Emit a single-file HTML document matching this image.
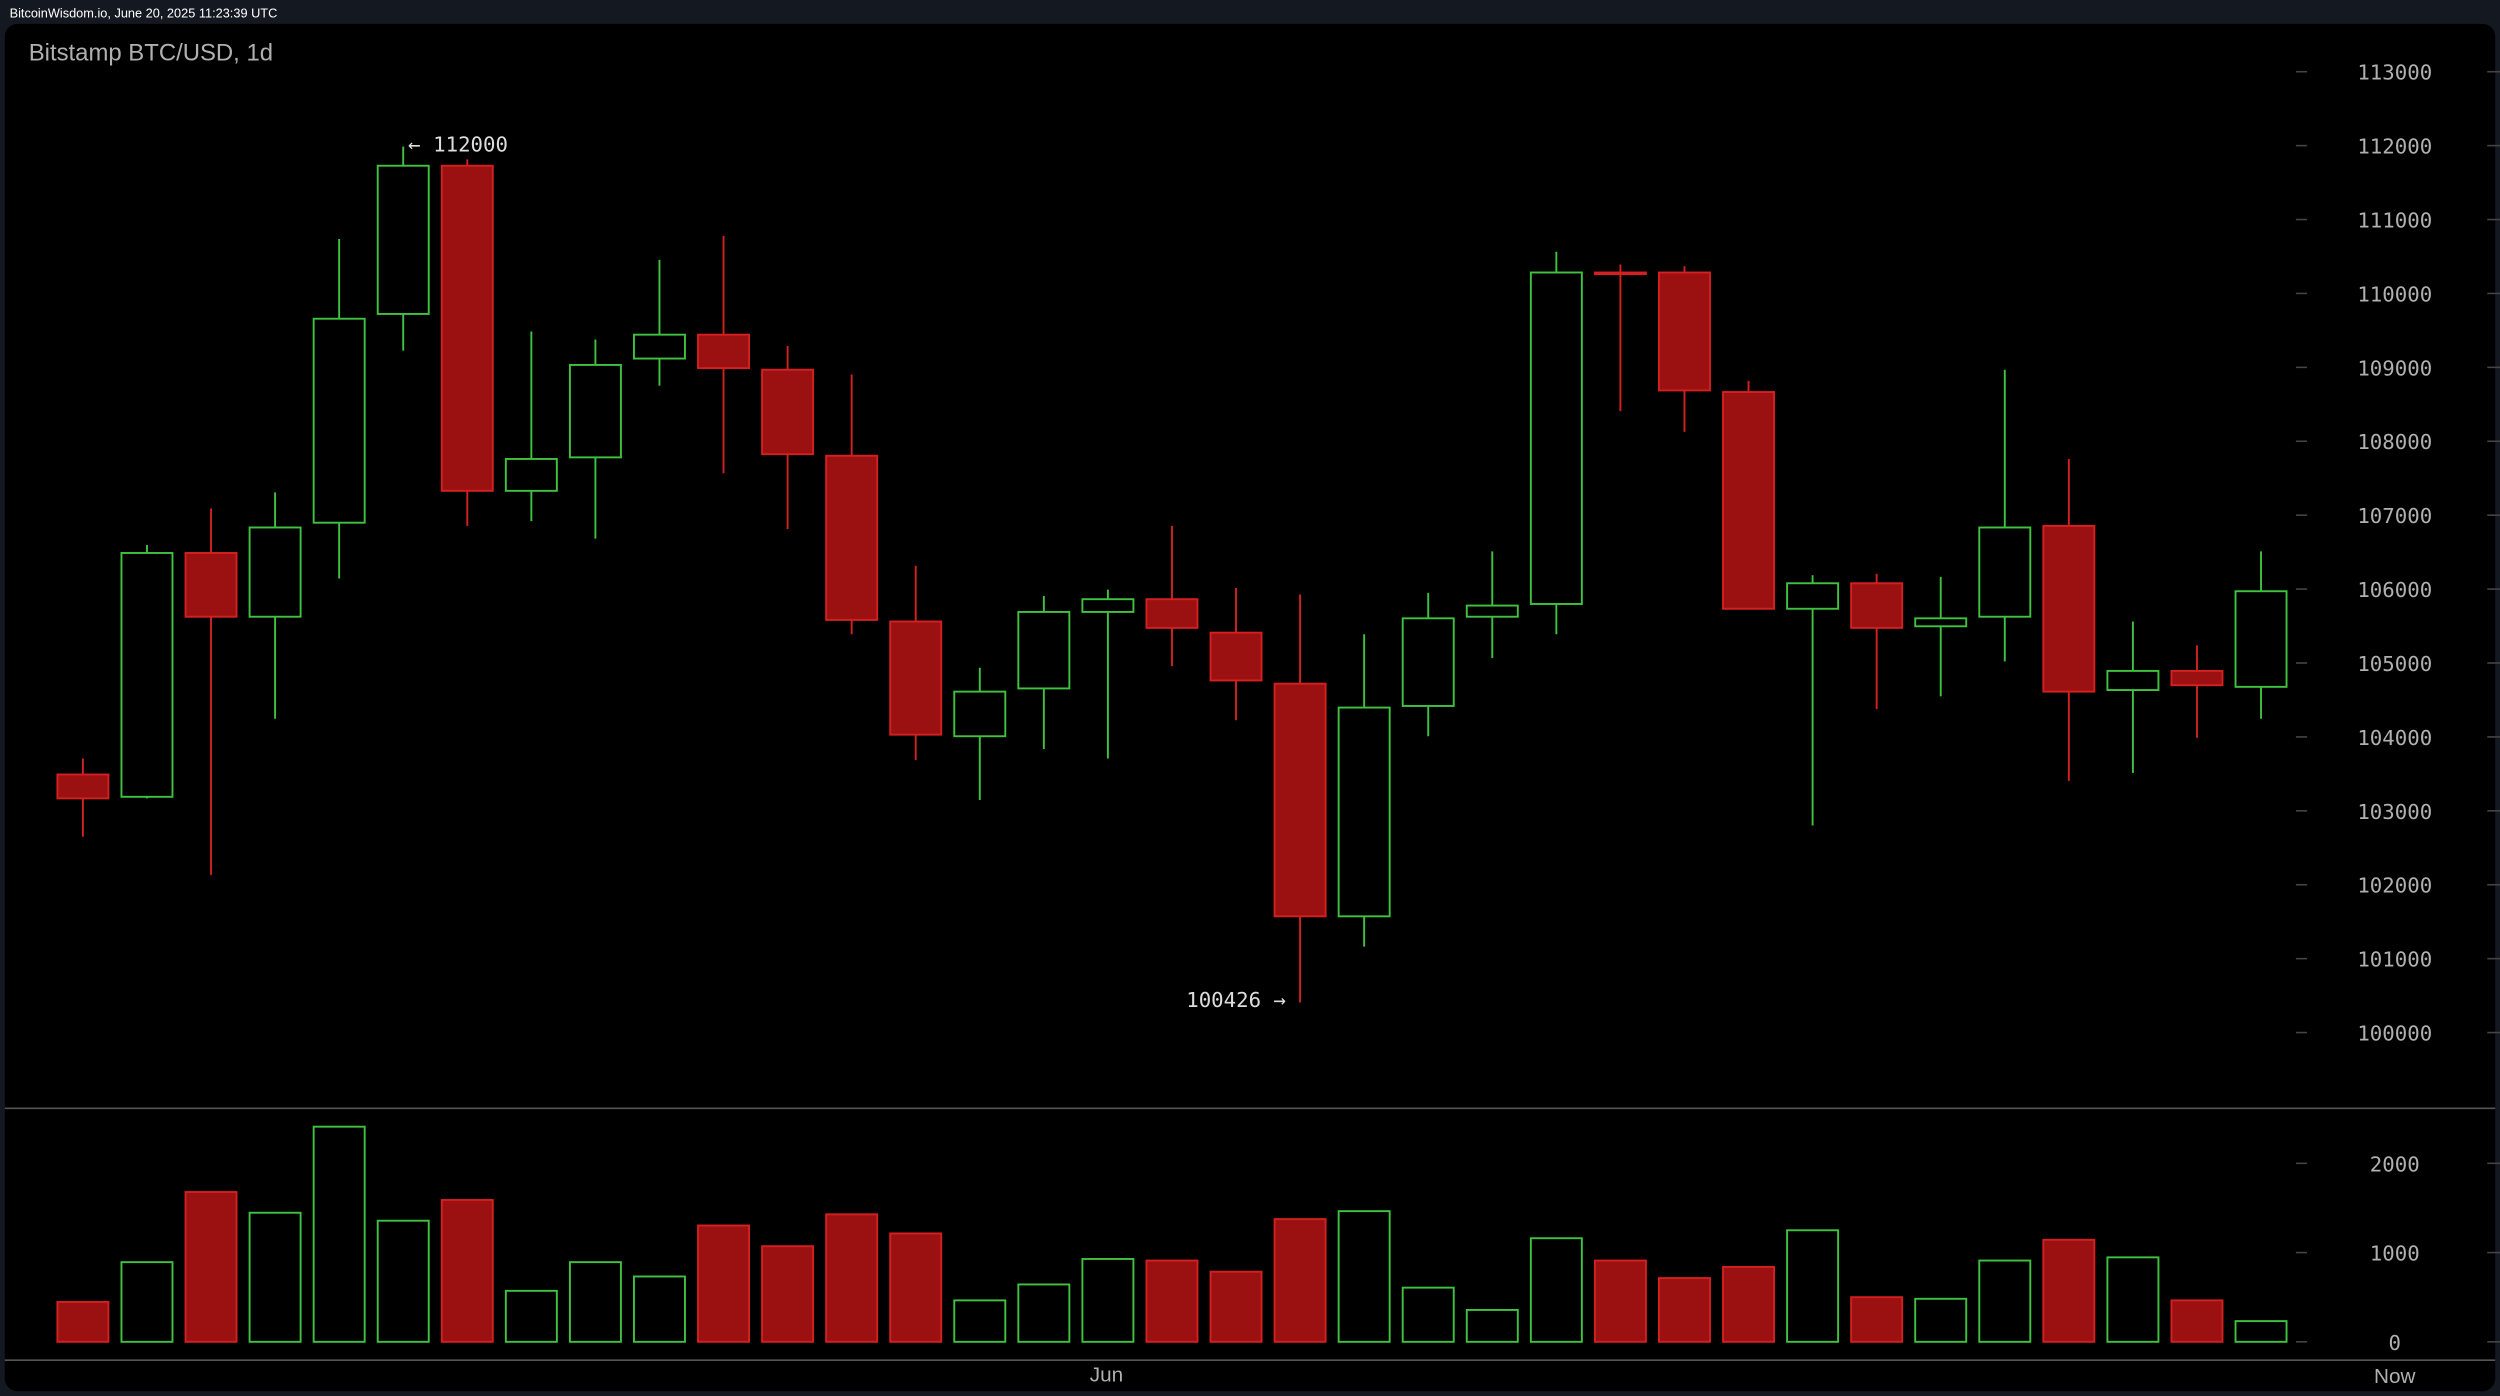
<!DOCTYPE html>
<html><head><meta charset="utf-8"><style>
html,body{margin:0;padding:0;background:#141821;}
svg{display:block}
</style></head><body>
<svg width="2500" height="1396" viewBox="0 0 1568 876" preserveAspectRatio="none" xmlns="http://www.w3.org/2000/svg">
<rect x="0" y="0" width="1568" height="876" fill="#141821"/>
<text x="6" y="11" font-family="Liberation Sans, sans-serif" font-size="8" fill="#fff">BitcoinWisdom.io, June 20, 2025 11:23:39 UTC</text>
<rect x="3" y="15" width="1562" height="858" rx="8" fill="#000"/>
<text x="18" y="38" font-family="Liberation Sans, sans-serif" font-size="15" fill="#b0b0b0">Bitstamp BTC/USD, 1d</text>
<line x1="3" y1="695.5" x2="1565" y2="695.5" stroke="#555" stroke-width="1"/>
<line x1="3" y1="853.5" x2="1565" y2="853.5" stroke="#555" stroke-width="1"/>
<g id="ax" font-family="DejaVu Sans Mono, monospace" font-size="13" fill="#b0b0b0" text-anchor="middle"></g>
<g id="c"></g>
<text x="256" y="95" font-family="DejaVu Sans Mono, monospace" font-size="13" fill="#ddd">← 112000</text>
<text x="744" y="632" font-family="DejaVu Sans Mono, monospace" font-size="13" fill="#ddd">100426 →</text>
<text x="694" y="867" font-family="Liberation Sans, sans-serif" font-size="13" fill="#b0b0b0" text-anchor="middle">Jun</text>
<text x="1502" y="868" font-family="Liberation Sans, sans-serif" font-size="13" fill="#b0b0b0" text-anchor="middle">Now</text>
<script>
var ns="http://www.w3.org/2000/svg";
function el(p,t,a,txt){var e=document.createElementNS(ns,t);for(var k in a)e.setAttribute(k,a[k]);if(txt)e.textContent=txt;p.appendChild(e);return e;}
var ax=document.getElementById('ax');
for(var i=0;i<=13;i++){var p=113000-i*1000;var y=45+i*46.38;
el(ax,'line',{x1:1440,x2:1447,y1:y,y2:y,stroke:'#444'});el(ax,'line',{x1:1560,x2:1568,y1:y,y2:y,stroke:'#444'});
el(ax,'text',{x:1502,y:y+5},String(p));}
[[0,842],[1000,786],[2000,730]].forEach(function(v){var y=v[1];
el(ax,'line',{x1:1440,x2:1447,y1:y,y2:y,stroke:'#444'});el(ax,'line',{x1:1560,x2:1568,y1:y,y2:y,stroke:'#444'});
el(ax,'text',{x:1502,y:y+5},String(v[0]));});
var d=[["r",486,501,476,525,817],["g",347,500,342,501,792],["r",347,387,319,549,748],["g",331,387,309,451,761],["g",200,328,150,363,707],["g",104,197,92,220,766],["r",104,308,100,330,753],["g",288,308,208,327,810],["g",229,287,213,338,792],["g",210,225,163,242,801],["r",210,231,148,297,769],["r",232,285,217,332,782],["r",286,389,235,398,762],["r",390,461,355,477,774],["g",434,462,419,502,816],["g",384,432,374,470,806],["g",376,384,370,476,790],["r",376,394,330,418,791],["r",397,427,369,452,798],["r",429,575,373,629,765],["g",444,575,398,594,760],["g",388,443,372,462,808],["g",380,387,346,413,822],["g",171,379,158,398,777],["r",171,171,166,258,791],["r",171,245,167,271,802],["r",246,382,239,382,795],["g",366,382,361,518,772],["r",366,394,360,445,814],["g",388,393,362,437,815],["g",331,387,232,415,791],["r",330,434,288,490,778],["g",421,433,390,485,789],["r",421,430,405,463,816],["g",371,431,346,451,829]];
var c=document.getElementById('c');
d.forEach(function(k,i){var x=52+i*40.18;var g=k[0]=="g";var st=g?"#3fc23f":"#d42020";var fi=g?"#000":"#9b1111";
el(c,'line',{x1:x,x2:x,y1:k[3],y2:k[4],stroke:st,'stroke-width':1.2});
var h=Math.max(k[2]-k[1],1);
el(c,'rect',{x:x-16,y:k[1],width:32,height:h,fill:fi,stroke:st,'stroke-width':1.2});
el(c,'rect',{x:x-16,y:k[5],width:32,height:842-k[5],fill:fi,stroke:st,'stroke-width':1.2});
});
</script>
</svg>
</body></html>
